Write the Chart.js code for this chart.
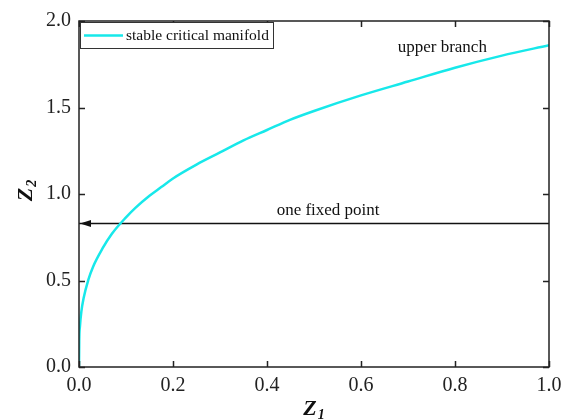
<!DOCTYPE html>
<html>
<head>
<meta charset="utf-8">
<script src="https://cdn.jsdelivr.net/npm/chart.js@4/dist/chart.umd.min.js"></script>
<style>
html,body{margin:0;padding:0;background:#fff;}
#wrap{width:562px;height:420px;position:relative;}
</style>
</head>
<body>
<div id="wrap"><canvas id="c" width="562" height="420"></canvas></div>
<script>
// Data
const z1Values = [0, 0.0005, 0.002, 0.005, 0.01, 0.02, 0.03, 0.05, 0.07, 0.1, 0.12, 0.15, 0.175, 0.2, 0.25, 0.3, 0.35, 0.4, 0.45, 0.5, 0.6, 0.7, 0.8, 0.9, 1.0];
const z2Values = [0, 0.15, 0.235, 0.32, 0.40, 0.505, 0.58, 0.685, 0.77, 0.865, 0.92, 0.99, 1.04, 1.09, 1.17, 1.24, 1.31, 1.37, 1.43, 1.48, 1.57, 1.65, 1.73, 1.80, 1.86];
const fixedLineX = [0, 1.0];
const fixedLineY = [0.83, 0.83];
const xTicks = [0, 0.2, 0.4, 0.6, 0.8, 1.0];
const yTicks = [0, 0.5, 1.0, 1.5, 2.0];
const seriesLabel = 'stable critical manifold';
const annotations = [
  {text: 'upper branch', x: 0.773, y: 1.82},
  {text: 'one fixed point', x: 0.53, y: 0.879}
];

const SERIF = '"Liberation Serif", "Times New Roman", serif';
const CYAN = '#17e8ea';

const manifoldData = z1Values.map((x, i) => ({x: x, y: z2Values[i]}));
const lineData = fixedLineX.map((x, i) => ({x: x, y: fixedLineY[i]}));

const framePlugin = {
  id: 'frame',
  afterDatasetsDraw(chart) {
    const ctx = chart.ctx;
    const a = chart.chartArea;
    const xs = chart.scales.x, ys = chart.scales.y;
    ctx.save();
    // arrow head at left end of the fixed-point line
    const ay = ys.getPixelForValue(fixedLineY[0]);
    const ax = xs.getPixelForValue(fixedLineX[0]);
    ctx.fillStyle = '#111';
    ctx.beginPath();
    ctx.moveTo(ax + 1, ay);
    ctx.lineTo(ax + 12, ay - 3.5);
    ctx.lineTo(ax + 12, ay + 3.5);
    ctx.closePath();
    ctx.fill();

    // frame
    ctx.strokeStyle = '#222';
    ctx.lineWidth = 1.5;
    ctx.strokeRect(a.left, a.top, a.right - a.left, a.bottom - a.top);
    // inward ticks
    ctx.beginPath();
    xTicks.forEach(v => {
      const px = Math.round(xs.getPixelForValue(v)) + 0.5;
      ctx.moveTo(px, a.bottom); ctx.lineTo(px, a.bottom - 6);
      ctx.moveTo(px, a.top); ctx.lineTo(px, a.top + 6);
    });
    yTicks.forEach(v => {
      const py = Math.round(ys.getPixelForValue(v)) + 0.5;
      ctx.moveTo(a.left, py); ctx.lineTo(a.left + 6, py);
      ctx.moveTo(a.right, py); ctx.lineTo(a.right - 6, py);
    });
    ctx.stroke();

    // legend box
    const lx = a.left + 1, ly = a.top + 1, lw = 193, lh = 26;
    ctx.fillStyle = '#fff';
    ctx.fillRect(lx, ly, lw, lh);
    ctx.strokeStyle = '#333';
    ctx.lineWidth = 1;
    ctx.strokeRect(lx + 0.5, ly + 0.5, lw, lh);
    ctx.strokeStyle = CYAN;
    ctx.lineWidth = 2.5;
    ctx.beginPath();
    ctx.moveTo(lx + 4, ly + 13.5); ctx.lineTo(lx + 43, ly + 13.5);
    ctx.stroke();
    ctx.fillStyle = '#111';
    ctx.font = '15.5px ' + SERIF;
    ctx.textAlign = 'left';
    ctx.textBaseline = 'middle';
    ctx.fillText(chart.data.datasets[0].label, lx + 46, ly + 14);

    // annotations
    ctx.font = '17px ' + SERIF;
    ctx.textAlign = 'center';
    ctx.textBaseline = 'alphabetic';
    annotations.forEach(t => {
      ctx.fillText(t.text, xs.getPixelForValue(t.x), ys.getPixelForValue(t.y));
    });

    // axis titles with subscripts
    function title(x, y, rot, sub) {
      ctx.save();
      ctx.translate(x, y);
      ctx.rotate(rot);
      ctx.fillStyle = '#111';
      ctx.textBaseline = 'alphabetic';
      ctx.textAlign = 'left';
      ctx.font = 'italic bold 22px ' + SERIF;
      const wz = ctx.measureText('Z').width;
      ctx.font = 'italic bold 14px ' + SERIF;
      const ws = ctx.measureText(sub).width;
      const total = wz + ws + 1;
      ctx.font = 'italic bold 22px ' + SERIF;
      ctx.fillText('Z', -total / 2, 8);
      ctx.font = 'italic bold 14px ' + SERIF;
      ctx.fillText(sub, -total / 2 + wz + 1, 12);
      ctx.restore();
    }
    title((a.left + a.right) / 2, 407, 0, '1');
    title(24, ys.getPixelForValue(1.02), -Math.PI / 2, '2');
    ctx.restore();
  }
};

new Chart(document.getElementById('c'), {
  type: 'scatter',
  data: {
    datasets: [
      {
        label: seriesLabel,
        data: manifoldData,
        showLine: true,
        borderColor: CYAN,
        borderWidth: 2.5,
        pointRadius: 0,
        cubicInterpolationMode: 'monotone'
      },
      {
        label: 'fixed point line',
        data: lineData,
        showLine: true,
        borderColor: '#111',
        borderWidth: 1.5,
        pointRadius: 0
      }
    ]
  },
  options: {
    responsive: false,
    animation: false,
    layout: {padding: {left: 0, right: 13, top: 21, bottom: 0}},
    plugins: {legend: {display: false}, tooltip: {enabled: false}},
    scales: {
      x: {
        type: 'linear', min: 0, max: 1,
        afterBuildTicks: s => { s.ticks = xTicks.map(v => ({value: v})); },
        afterFit: s => { s.height = 53; s.paddingLeft = 0; s.paddingRight = 0; },
        grid: {display: false, drawTicks: false},
        border: {display: false},
        ticks: {
          padding: 7,
          color: '#222',
          font: {family: SERIF, size: 20},
          callback: v => v.toFixed(1)
        }
      },
      y: {
        type: 'linear', min: 0, max: 2,
        afterBuildTicks: s => { s.ticks = yTicks.map(v => ({value: v})); },
        afterFit: s => { s.width = 79; s.paddingTop = 0; s.paddingBottom = 0; },
        grid: {display: false, drawTicks: false},
        border: {display: false},
        ticks: {
          padding: 8,
          color: '#222',
          font: {family: SERIF, size: 20},
          callback: v => v.toFixed(1)
        }
      }
    }
  },
  plugins: [framePlugin]
});
</script>
</body>
</html>
